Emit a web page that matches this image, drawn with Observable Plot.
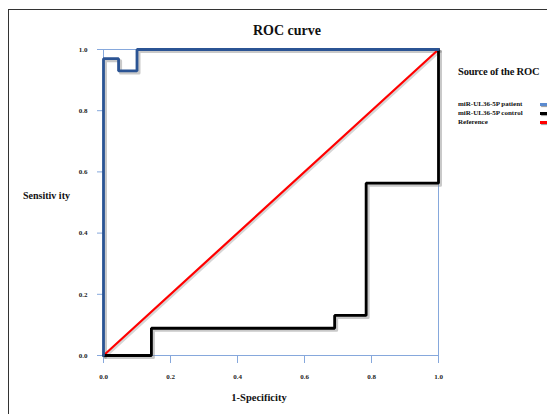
<!DOCTYPE html>
<html>
<head>
<meta charset="utf-8">
<script src="https://cdn.jsdelivr.net/npm/d3@7"></script>
<script src="https://cdn.jsdelivr.net/npm/@observablehq/plot@0.6"></script>
<style>
  html, body { margin: 0; padding: 0; background: #fff; }
  #wrap { position: relative; width: 547px; height: 414px; overflow: hidden; background: #fff; }
  #border { position: absolute; left: 8px; top: 9px; width: 600px; height: 500px;
            border-left: 1.5px solid #333; border-top: 1.5px solid #333; }
  #chart { position: absolute; left: 0; top: 0; }
  #legend { position: absolute; left: 458px; top: 66px; width: 92px;
            font-family: "Liberation Serif", serif; font-weight: bold; color: #111; }
  #legend .ttl { font-size: 10.5px; white-space: nowrap; margin-bottom: 23px; letter-spacing: -0.2px; }
  #legend .item { position: relative; font-size: 7px; height: 9px; line-height: 9px; white-space: nowrap; }
  #legend .sw { position: absolute; left: 82px; top: 3px; width: 8px; height: 3px; box-shadow: 1px 1px 1px #999; }
</style>
</head>
<body>
<div id="wrap">
  <div id="border"></div>
  <div id="chart"></div>
  <div id="legend"></div>
</div>
<script>
// Series
const patientX = [0, 0, 0.045, 0.045, 0.10, 0.10, 1.0];
const patientY = [0, 0.97, 0.97, 0.93, 0.93, 1.0, 1.0];
const controlX = [0, 0.143, 0.143, 0.69, 0.69, 0.784, 0.784, 1.0, 1.0];
const controlY = [0, 0, 0.089, 0.089, 0.131, 0.131, 0.563, 0.563, 1.0];
const referenceX = [0, 1];
const referenceY = [0, 1];
const tickValues = [0, 0.2, 0.4, 0.6, 0.8, 1.0];
const seriesNames = ["miR-UL36-5P patient", "miR-UL36-5P control", "Reference"];
const seriesColors = ["#5b8bd0", "#000000", "#ff0000"];
const lineColors = ["#2b5494", "#000000", "#ff0000"];
const titleText = "ROC curve";
const xLabel = "1-Specificity";
const yLabel = "Sensitiv ity";
const legendTitle = "Source of  the ROC";

const toRows = (xs, ys) => xs.map((x, i) => ({x, y: ys[i]}));
const patient = toRows(patientX, patientY);
const control = toRows(controlX, controlY);
const reference = toRows(referenceX, referenceY);

const axisColor = "#86a8dc";
const serif = "Liberation Serif";

const chart = Plot.plot({
  width: 547,
  height: 414,
  marginLeft: 103,
  marginRight: 109,
  marginTop: 49,
  marginBottom: 59,
  style: { fontFamily: serif, fontWeight: "bold", fontSize: "7px", background: "transparent", color: "#222" },
  x: { domain: [0, 1], label: null },
  y: { domain: [0, 1], label: null },
  marks: [
    Plot.frame({ stroke: axisColor, strokeWidth: 1 }),
    Plot.axisX(tickValues, { tickSize: 8, stroke: axisColor, text: null, label: null, strokeWidth: 1 }),
    Plot.axisX(tickValues, { tickSize: 0, tickPadding: 19, tickFormat: d3.format(".1f"), label: null, fill: "#222" }),
    Plot.axisY(tickValues, { tickSize: 6, stroke: axisColor, text: null, label: null, strokeWidth: 1 }),
    Plot.axisY(tickValues, { tickSize: 0, tickPadding: 16, tickFormat: d3.format(".1f"), label: null, fill: "#222" }),
    // shadows
    Plot.line(reference, { x: "x", y: "y", stroke: "#999", strokeOpacity: 0.4, strokeWidth: 2.5, dx: 1.5, dy: 1.5 }),
    Plot.line(control, { x: "x", y: "y", stroke: "#888", strokeOpacity: 0.45, strokeWidth: 3, dx: 2, dy: 2 }),
    Plot.line(patient, { x: "x", y: "y", stroke: "#888", strokeOpacity: 0.45, strokeWidth: 3, dx: 2, dy: 2 }),
    // curves
    Plot.line(reference, { x: "x", y: "y", stroke: lineColors[2], strokeWidth: 2.2 }),
    Plot.line(control, { x: "x", y: "y", stroke: lineColors[1], strokeWidth: 2.8, strokeLinejoin: "miter" }),
    Plot.line(patient, { x: "x", y: "y", stroke: lineColors[0], strokeWidth: 2.8, strokeLinejoin: "miter" }),
    // texts
    Plot.text([titleText], { frameAnchor: "top", dx: 16, dy: -19, fontSize: 14, fontWeight: "bold", fontFamily: serif, fill: "#111", lineAnchor: "middle" }),
    Plot.text([xLabel], { frameAnchor: "bottom", dx: -12, dy: 42, fontSize: 10.5, fontWeight: "bold", fontFamily: serif, fill: "#111", lineAnchor: "middle" }),
    Plot.text([yLabel], { frameAnchor: "left", textAnchor: "middle", dx: -57, dy: -7, fontSize: 10, fontWeight: "bold", fontFamily: serif, fill: "#111", lineAnchor: "middle" })
  ]
});
document.getElementById("chart").appendChild(chart);

const legend = document.getElementById("legend");
const t = document.createElement("div");
t.className = "ttl";
t.textContent = legendTitle;
legend.appendChild(t);
seriesNames.forEach((name, i) => {
  const it = document.createElement("div");
  it.className = "item";
  it.textContent = name;
  const sw = document.createElement("span");
  sw.className = "sw";
  sw.style.background = seriesColors[i];
  it.appendChild(sw);
  legend.appendChild(it);
});
</script>
</body>
</html>
